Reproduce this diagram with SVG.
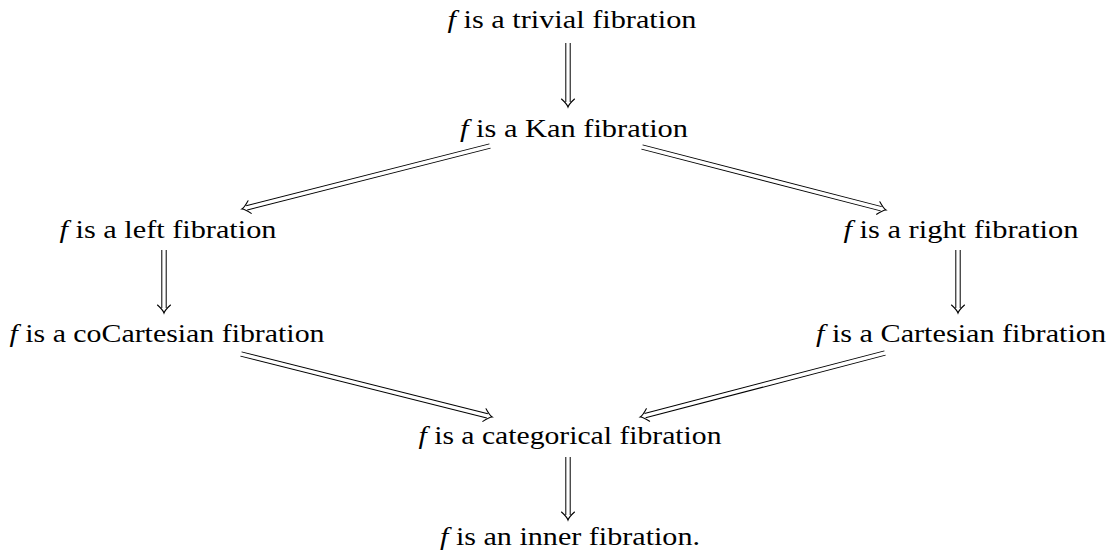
<svg xmlns="http://www.w3.org/2000/svg" width="1112" height="550" viewBox="0 0 1112 550">
<style>
text{font-family:"Liberation Serif","DejaVu Serif",serif;font-size:26px;fill:#000;text-anchor:middle}
.m{font-style:italic}
.o{stroke:#000;stroke-width:5.4;fill:none}
.w{stroke:#fff;stroke-width:3.4;fill:none}
.h{stroke:#000;stroke-width:1.1;fill:none;stroke-linecap:round}
</style>
<rect width="1112" height="550" fill="#fff"/>
<g id="n-trivial"><text x="572" y="28" textLength="249" lengthAdjust="spacingAndGlyphs"><tspan class="m">f</tspan> is a trivial fibration</text></g>
<g id="n-kan"><text x="574" y="137" textLength="228" lengthAdjust="spacingAndGlyphs"><tspan class="m">f</tspan> is a Kan fibration</text></g>
<g id="n-left"><text x="168" y="238" textLength="217" lengthAdjust="spacingAndGlyphs"><tspan class="m">f</tspan> is a left fibration</text></g>
<g id="n-right"><text x="961" y="238" textLength="235" lengthAdjust="spacingAndGlyphs"><tspan class="m">f</tspan> is a right fibration</text></g>
<g id="n-cocart"><text x="167" y="342" textLength="315" lengthAdjust="spacingAndGlyphs"><tspan class="m">f</tspan> is a coCartesian fibration</text></g>
<g id="n-cart"><text x="961" y="342" textLength="290" lengthAdjust="spacingAndGlyphs"><tspan class="m">f</tspan> is a Cartesian fibration</text></g>
<g id="n-categorical"><text x="570" y="444" textLength="303" lengthAdjust="spacingAndGlyphs"><tspan class="m">f</tspan> is a categorical fibration</text></g>
<g id="n-inner"><text x="570" y="545" textLength="260" lengthAdjust="spacingAndGlyphs"><tspan class="m">f</tspan> is an inner fibration.</text></g>
<g id="connectors">
<g transform="translate(568,43) rotate(90)"><path class="o" d="M0,0H59"/><path class="w" d="M-1,0H60"/><path class="h" d="M56,-6.5Q61,-1 64,0Q61,1 56,6.5"/></g>
<g transform="translate(490,146) rotate(165.75)"><path class="o" d="M0,0H251"/><path class="w" d="M-1,0H252"/><path class="h" d="M248,-6.5Q253,-1 256,0Q253,1 248,6.5"/></g>
<g transform="translate(642,147) rotate(14.48)"><path class="o" d="M0,0H247"/><path class="w" d="M-1,0H248"/><path class="h" d="M244,-6.5Q249,-1 252,0Q249,1 244,6.5"/></g>
<g transform="translate(164,250) rotate(90)"><path class="o" d="M0,0H58"/><path class="w" d="M-1,0H59"/><path class="h" d="M55,-6.5Q60,-1 63,0Q60,1 55,6.5"/></g>
<g transform="translate(958,250) rotate(90)"><path class="o" d="M0,0H58"/><path class="w" d="M-1,0H59"/><path class="h" d="M55,-6.5Q60,-1 63,0Q60,1 55,6.5"/></g>
<g transform="translate(241,354) rotate(14.09)"><path class="o" d="M0,0H254"/><path class="w" d="M-1,0H255"/><path class="h" d="M251,-6.5Q256,-1 259,0Q256,1 251,6.5"/></g>
<g transform="translate(885,353) rotate(165.36)"><path class="o" d="M0,0H248"/><path class="w" d="M-1,0H249"/><path class="h" d="M245,-6.5Q250,-1 253,0Q250,1 245,6.5"/></g>
<g transform="translate(568,457) rotate(90)"><path class="o" d="M0,0H58"/><path class="w" d="M-1,0H59"/><path class="h" d="M55,-6.5Q60,-1 63,0Q60,1 55,6.5"/></g>
</g>
</svg>
